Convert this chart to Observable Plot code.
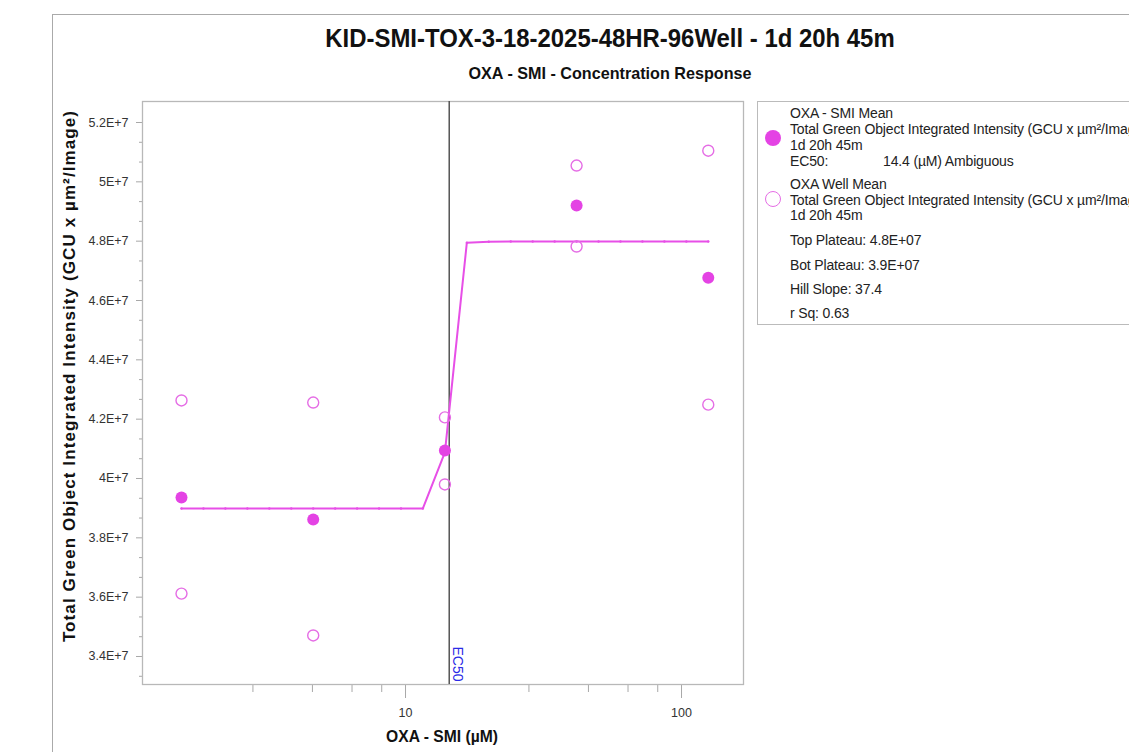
<!DOCTYPE html>
<html><head><meta charset="utf-8">
<script src="https://cdn.jsdelivr.net/npm/d3@7"></script>
<script src="https://cdn.jsdelivr.net/npm/@observablehq/plot@0.6"></script>
<style>
html,body{margin:0;padding:0;background:#fff;overflow:hidden;width:1129px;height:752px}
#wrap{position:relative;width:1129px;height:752px;overflow:hidden;font-family:"Liberation Sans",Arial,sans-serif;color:#222}
.abs{position:absolute;white-space:nowrap}
.narrow{font-family:"Liberation Sans Narrow","Arial Narrow","Liberation Sans",sans-serif;font-weight:bold}
#chart{position:absolute;left:0;top:0}
.leg{position:absolute;left:790px;font-size:14px;line-height:16px;white-space:nowrap;color:#222;letter-spacing:-0.15px}
</style></head>
<body><div id="wrap">
<div class="abs" style="left:52px;top:14px;width:1100px;height:0;border-top:1.5px solid #aaa"></div>
<div class="abs" style="left:52px;top:14px;width:0;height:760px;border-left:1.5px solid #aaa"></div>
<div id="chart"></div>
<div id="title" class="abs narrow" style="left:610px;top:38px;transform:translate(-50%,-50%) scaleX(0.92);font-size:26px;color:#111"></div>
<div id="subtitle" class="abs narrow" style="left:610px;top:74px;transform:translate(-50%,-50%) scaleX(0.95);font-size:17px;color:#111"></div>
<div id="ylabel" class="abs" style="left:70px;top:376px;transform:translate(-50%,-50%) rotate(-90deg);font-size:17px;font-weight:bold;letter-spacing:1.1px;color:#111"></div>
<div id="xlabel" class="abs narrow" style="left:442px;top:737px;transform:translate(-50%,-50%) scaleX(0.92);font-size:17px;color:#111"></div>
<div id="legend" class="abs" style="left:757px;top:101px;width:420px;height:224px;border:1.2px solid #bbb;box-sizing:border-box"></div>
</div>
<script>
const titleText = "KID-SMI-TOX-3-18-2025-48HR-96Well - 1d 20h 45m";
const subtitleText = "OXA - SMI - Concentration Response";
const yLabelText = "Total Green Object Integrated Intensity (GCU x µm²/Image)";
const xLabelText = "OXA - SMI (µM)";

// Mean response per concentration
const meanConc = [1.543, 4.630, 13.89, 41.67, 125];
const meanValue = [3.936e7, 3.862e7, 4.094e7, 4.920e7, 4.677e7];
// Individual well means
const wellConc = [1.543, 1.543, 4.630, 4.630, 13.89, 13.89, 41.67, 41.67, 125, 125];
const wellValue = [4.263e7, 3.612e7, 4.256e7, 3.471e7, 4.206e7, 3.980e7, 5.055e7, 4.782e7, 5.105e7, 4.249e7];
// Fitted curve (as drawn)
const fitConc = [1.543, 1.853, 2.225, 2.673, 3.210, 3.855, 4.629, 5.561, 6.677, 8.019, 9.630, 11.56, 13.89, 16.68, 20.03, 24.06, 28.89, 34.70, 41.67, 50.04, 60.10, 72.17, 86.68, 104.1, 125];
const fitValue = [3.899e7, 3.899e7, 3.899e7, 3.899e7, 3.899e7, 3.899e7, 3.899e7, 3.899e7, 3.899e7, 3.899e7, 3.899e7, 3.899e7, 4.088e7, 4.795e7, 4.798e7, 4.799e7, 4.799e7, 4.799e7, 4.799e7, 4.799e7, 4.799e7, 4.799e7, 4.799e7, 4.799e7, 4.799e7];
const ec50 = [14.4];
const ec50Label = "EC50";

const yMajor = [3.4e7, 3.6e7, 3.8e7, 4.0e7, 4.2e7, 4.4e7, 4.6e7, 4.8e7, 5.0e7, 5.2e7];
const yTickLabels = ["3.4E+7", "3.6E+7", "3.8E+7", "4E+7", "4.2E+7", "4.4E+7", "4.6E+7", "4.8E+7", "5E+7", "5.2E+7"];
const yMinor = [3.3333e7, 3.4667e7, 3.5333e7, 3.6667e7, 3.7333e7, 3.8667e7, 3.9333e7, 4.0667e7, 4.1333e7, 4.2667e7, 4.3333e7, 4.4667e7, 4.5333e7, 4.6667e7, 4.7333e7, 4.8667e7, 4.9333e7, 5.0667e7, 5.1333e7];
const xMajor = [10, 100];
const xTickLabels = ["10", "100"];
const xMinor = [2.8, 4.6, 6.4, 8.2, 28, 46, 64, 82];

const legendLines = [
  ["OXA - SMI Mean", 113],
  ["Total Green Object Integrated Intensity (GCU x µm²/Image)", 129],
  ["1d 20h 45m", 145],
  ["EC50:", 161],
  ["OXA Well Mean", 184],
  ["Total Green Object Integrated Intensity (GCU x µm²/Image)", 200],
  ["1d 20h 45m", 215],
  ["Top Plateau: 4.8E+07", 240],
  ["Bot Plateau: 3.9E+07", 265],
  ["Hill Slope: 37.4", 289],
  ["r Sq: 0.63", 313]
];
const ec50Text = "14.4 (µM) Ambiguous";

const meanColor = "#e443e4";
const wellColor = "#e56de5";
const lineColor = "#e74fe7";

document.getElementById("title").textContent = titleText;
document.getElementById("subtitle").textContent = subtitleText;
document.getElementById("ylabel").textContent = yLabelText;
document.getElementById("xlabel").textContent = xLabelText;

const wrap = document.getElementById("wrap");
for (const [t, y] of legendLines) {
  const d = document.createElement("div");
  d.className = "leg";
  d.style.top = (y - 8) + "px";
  d.textContent = t;
  wrap.appendChild(d);
}
{
  const d = document.createElement("div");
  d.className = "leg";
  d.style.left = "883px";
  d.style.top = (161 - 8) + "px";
  d.textContent = ec50Text;
  wrap.appendChild(d);
  const c1 = document.createElement("div");
  c1.className = "abs";
  Object.assign(c1.style, {left: "765px", top: "130px", width: "16px", height: "16px", borderRadius: "50%", background: meanColor});
  wrap.appendChild(c1);
  const c2 = document.createElement("div");
  c2.className = "abs";
  Object.assign(c2.style, {left: "765px", top: "191px", width: "16px", height: "16px", borderRadius: "50%", border: "1.3px solid " + wellColor, boxSizing: "border-box"});
  wrap.appendChild(c2);
}

const means = meanConc.map((c, i) => ({c, v: meanValue[i]}));
const wells = wellConc.map((c, i) => ({c, v: wellValue[i]}));
const fit = fitConc.map((c, i) => ({c, v: fitValue[i]}));
const yLab = new Map(yMajor.map((v, i) => [v, yTickLabels[i]]));
const xLab = new Map(xMajor.map((v, i) => [v, xTickLabels[i]]));

const plot = Plot.plot({
  width: 1129, height: 752,
  marginLeft: 142, marginRight: 386, marginTop: 101, marginBottom: 68,
  style: {fontFamily: "Liberation Sans, Arial, sans-serif", fontSize: "12.5px", background: "transparent", overflow: "visible"},
  x: {type: "log", domain: [1.1145, 167.7]},
  y: {domain: [3.3056e7, 5.2708e7]},
  marks: [
    Plot.axisY(yMinor, {tickSize: 3, tickFormat: () => "", stroke: "#a8a8a8", label: null}),
    Plot.axisY(yMajor, {tickSize: 6, tickPadding: 8, tickFormat: d => yLab.get(d), stroke: "#a8a8a8", fill: "#333", label: null}),
    Plot.axisX(xMinor, {tickSize: 8, tickFormat: () => "", stroke: "#a8a8a8", label: null}),
    Plot.axisX(xMajor, {tickSize: 14, tickPadding: 10, tickFormat: d => xLab.get(d), stroke: "#a8a8a8", fill: "#333", label: null}),
    Plot.frame({stroke: "#b8b8b8", strokeWidth: 1.3}),
    Plot.ruleX(ec50, {stroke: "#555", strokeWidth: 1.5}),
    Plot.text(ec50, {x: d => d, text: () => ec50Label, frameAnchor: "bottom", rotate: 90, textAnchor: "end", dx: 4, dy: -3, fill: "#2a2ae6", fontSize: 14}),
    Plot.line(fit, {x: "c", y: "v", stroke: lineColor, strokeWidth: 2}),
    Plot.dot(fit, {x: "c", y: "v", r: 1.2, fill: lineColor}),
    Plot.dot(wells, {x: "c", y: "v", r: 5.5, stroke: wellColor, strokeWidth: 1.4, fill: "none"}),
    Plot.dot(means, {x: "c", y: "v", r: 6, fill: meanColor})
  ]
});
document.getElementById("chart").appendChild(plot);
</script>
</body></html>
